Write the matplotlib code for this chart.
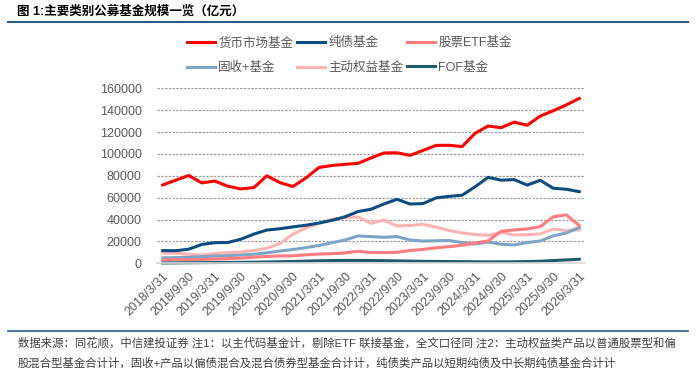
import matplotlib
matplotlib.use('Agg')
import matplotlib.pyplot as plt
from matplotlib.lines import Line2D

plt.rcParams['font.family'] = ['Liberation Sans', 'Noto Sans CJK SC', 'DejaVu Sans']

# 季度数据 2018/3/31 ~ 2026/3/31（亿元）
tick_labels = ['2018/3/31', '2018/9/30', '2019/3/31', '2019/9/30', '2020/3/31', '2020/9/30',
               '2021/3/31', '2021/9/30', '2022/3/31', '2022/9/30', '2023/3/31', '2023/9/30',
               '2024/3/31', '2024/9/30', '2025/3/31', '2025/9/30', '2026/3/31']

money_market = [71600, 76000, 80300, 73500, 75200, 70500, 68000, 69200, 80000, 73800, 70200,
                78000, 87600, 89400, 90500, 91400, 96300, 100900, 101000, 98700, 103200, 107800,
                107900, 106700, 118900, 125500, 124000, 129100, 126200, 134600, 139500, 144800, 150700]
pure_bond = [11600, 11500, 12900, 17200, 18900, 19000, 22000, 26700, 30400, 31600, 33300,
             34800, 36800, 39300, 42500, 47300, 49400, 54300, 58500, 54200, 54600, 59800,
             61200, 62200, 70000, 78600, 76000, 76500, 71500, 75900, 68600, 67700, 65500]
stock_etf = [3000, 3200, 3300, 3500, 3900, 4300, 4800, 5600, 6200, 6800, 6800,
             7800, 8400, 8800, 9500, 11000, 9800, 9800, 10100, 11700, 12700, 14200,
             15200, 16500, 18500, 20500, 29300, 30500, 31400, 33500, 42500, 44300, 34500]
fixed_plus = [5000, 5200, 5500, 6000, 6600, 7000, 7600, 8300, 9600, 11200, 12600,
              14300, 16300, 18800, 21300, 25000, 24400, 23800, 24400, 21300, 20300, 20600,
              20800, 18900, 17600, 19500, 17400, 16800, 19000, 20400, 25100, 27700, 32800]
active_equity = [9500, 9200, 8300, 7400, 8800, 9800, 10400, 11700, 13800, 18000, 26600,
                 32300, 36500, 40300, 41600, 42400, 36500, 39500, 34100, 34600, 35700, 33000,
                 30000, 27800, 26300, 25600, 28300, 25900, 26200, 26800, 31400, 29900, 30700]
fof = [300, 400, 500, 600, 700, 800, 900, 1000, 1200, 1400, 1700,
       2000, 2300, 2500, 2600, 2600, 2500, 2400, 2200, 2000, 1800, 1700,
       1600, 1500, 1400, 1300, 1300, 1400, 1600, 1900, 2500, 3100, 3700]

x = list(range(len(money_market)))

fig = plt.figure(figsize=(7, 3.74), dpi=100)
ax = fig.add_axes([157 / 700, 1 - 263.3 / 374, 428 / 700, 175 / 374])

lw = 2.2
l_ae, = ax.plot(x, active_equity, color='#FFB3B3', lw=lw, label='主动权益基金', clip_on=False)
l_fp, = ax.plot(x, fixed_plus, color='#7EA5C6', lw=lw, label='固收+基金', clip_on=False)
l_etf, = ax.plot(x, stock_etf, color='#FF7C80', lw=lw, label='股票ETF基金', clip_on=False)
l_pb, = ax.plot(x, pure_bond, color='#0E4C7E', lw=lw, label='纯债基金', clip_on=False)
l_fof, = ax.plot(x, fof, color='#1F5B6B', lw=lw, label='FOF基金', clip_on=False)
l_mm, = ax.plot(x, money_market, color='#FF0000', lw=lw, label='货币市场基金', clip_on=False)

ax.set_xlim(-0.44, len(x) - 1 + 0.44)
ax.set_ylim(0, 160000)
ax.set_yticks(range(0, 160001, 20000))
ax.set_xticks(x[::2])
ax.set_xticklabels(tick_labels, rotation=45, ha='right', va='top', rotation_mode='anchor')
ax.tick_params(length=0, colors='#595959', labelsize=9)
ax.tick_params(axis='y', pad=11)
ax.tick_params(axis='x', pad=5)
ax.grid(axis='y', color='#A0A0A0', lw=0.9, ls=(0, (2, 1)))
ax.set_axisbelow(True)
for s in ['top', 'right', 'left']:
    ax.spines[s].set_visible(False)
ax.spines['bottom'].set_color('#D9D9D9')
ax.spines['bottom'].set_linewidth(1.2)

# legend: row 1 货币/纯债/ETF, row 2 固收+/主动权益/FOF
handles = [l_mm, l_fp, l_pb, l_ae, l_etf, l_fof]
fig.legend(handles=handles, labels=[h.get_label() for h in handles],
           loc='upper left', bbox_to_anchor=(187 / 700, 1 - 37 / 374), ncol=3,
           frameon=False, fontsize=9, labelcolor='#595959', handlelength=2.25,
           handletextpad=0.25, columnspacing=0.3, labelspacing=1.0,
           borderpad=0, borderaxespad=0)

fig.text(17 / 700, 1 - 12 / 374, '图 1:主要类别公募基金规模一览（亿元）', fontsize=9,
         weight='bold', va='center', ha='left')
fig.add_artist(Line2D([8 / 700, 688 / 700], [1 - 22 / 374] * 2, color='#2B5C87', lw=1.5))
fig.add_artist(Line2D([8 / 700, 688 / 700], [1 - 331 / 374] * 2, color='#2B5C87', lw=1.2))

fig.text(18 / 700, 1 - 343 / 374,
         '数据来源：同花顺，中信建投证券 注1：以主代码基金计，剔除ETF 联接基金，全文口径同 注2：主动权益类产品以普通股票型和偏',
         fontsize=8.2, color='#404040', va='center', ha='left')
fig.text(18 / 700, 1 - 363 / 374,
         '股混合型基金合计计，固收+产品以偏债混合及混合债券型基金合计计，纯债类产品以短期纯债及中长期纯债基金合计计',
         fontsize=8.2, color='#404040', va='center', ha='left')

fig.savefig('out.png', dpi=100)
